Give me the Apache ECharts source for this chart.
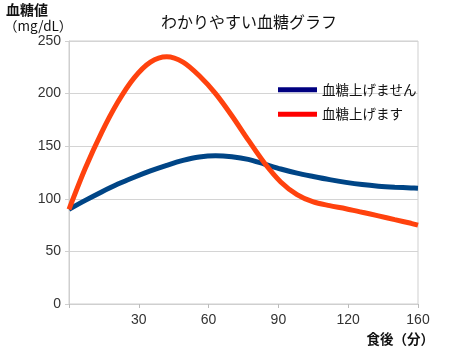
<!DOCTYPE html>
<html>
<head>
<meta charset="utf-8">
<script src="https://cdn.jsdelivr.net/npm/echarts@6/dist/echarts.min.js"></script>
<style>
  html, body { margin: 0; padding: 0; background: #fff; }
  #chart { width: 450px; height: 353px; }
</style>
</head>
<body>
<div id="chart"></div>
<script>
// x軸の目盛りラベル（等間隔、最後だけ160）
const xTickLabels = ['', '30', '60', '90', '120', '160'];
// 横位置（目盛り単位、0〜150）
const tPos = [0, 7, 14, 21, 28, 35, 42, 49, 56, 63, 70, 77, 84, 91, 98, 105, 112, 119, 126, 133, 140, 147, 150];
// 血糖上げません
const noRise = [90, 98.5, 106.5, 114, 120.5, 126.5, 131.8, 136.5, 139.8, 141, 140, 137.5, 133, 128.3, 124.4, 121.2, 118.2, 115.6, 113.5, 112, 111, 110.3, 110];
// 血糖上げます
const rise = [90, 129, 163, 192, 215, 230, 235, 230, 217, 200, 179, 156, 134, 116, 104, 97, 93.5, 90.6, 87.2, 83.8, 80.2, 76.7, 75];

const seriesNames = ['血糖上げません', '血糖上げます'];
const lineColors = ['#004586', '#ff420e'];
const legendColors = ['#000080', '#ff0000'];

const FONT = '"Liberation Sans", "Noto Sans CJK JP", sans-serif';
const JP = '"Noto Sans CJK JP", sans-serif';

function pairs(vals) {
  return tPos.map((t, i) => [t, vals[i]]);
}

const chart = echarts.init(document.getElementById('chart'));
chart.setOption({
  animation: false,
  backgroundColor: '#fff',
  textStyle: { fontFamily: FONT },
  title: [
    {
      text: 'わかりやすい血糖グラフ',
      left: 156, top: 9,
      textStyle: { fontFamily: JP, fontSize: 16, fontWeight: 'normal', color: '#111' }
    },
    {
      text: '血糖値',
      left: 6, top: 3, padding: 0,
      textStyle: { fontFamily: JP, fontSize: 14, fontWeight: 'bold', color: '#111' }
    },
    {
      text: '（mg/dL）',
      left: 4, top: 19, padding: 0,
      textStyle: { fontFamily: JP, fontSize: 13.5, fontWeight: 'normal', color: '#111' }
    }
  ],
  legend: {
    orient: 'vertical',
    left: 278, top: 83,
    padding: 0,
    itemWidth: 39, itemHeight: 5,
    itemGap: 11,
    icon: 'rect',
    textStyle: { fontFamily: JP, fontSize: 13.5, color: '#111' },
    data: seriesNames.map((n, i) => ({ name: n, itemStyle: { color: legendColors[i] } }))
  },
  grid: {
    left: 69, right: 32, top: 41, bottom: 49,
    show: true, borderColor: '#cfcfcf', borderWidth: 1
  },
  xAxis: {
    type: 'value',
    min: 0, max: 150, interval: 30,
    name: '食後（分）',
    nameLocation: 'end',
    nameGap: 16,
    nameTextStyle: {
      fontFamily: JP, fontSize: 13.5, fontWeight: 'bold', color: '#111',
      align: 'right', verticalAlign: 'top', padding: [28, 0, 0, 0]
    },
    axisLine: { lineStyle: { color: '#cfcfcf' } },
    axisTick: { show: true, length: 4, lineStyle: { color: '#bbb' } },
    splitLine: { show: false },
    axisLabel: {
      fontSize: 14, color: '#333', margin: 9,
      showMaxLabel: true,
      formatter: v => xTickLabels[Math.round(v / 30)]
    }
  },
  yAxis: {
    type: 'value',
    min: 0, max: 250, interval: 50,
    axisLine: { show: true, lineStyle: { color: '#cfcfcf' } },
    axisTick: { show: true, length: 4, lineStyle: { color: '#cfcfcf' } },
    splitLine: { lineStyle: { color: '#d4d4d4' } },
    axisLabel: { fontSize: 14, color: '#333', margin: 8 }
  },
  series: [
    {
      name: seriesNames[0],
      type: 'line',
      smooth: 0.3,
      showSymbol: false,
      color: lineColors[0],
      lineStyle: { width: 5, color: lineColors[0] },
      data: pairs(noRise)
    },
    {
      name: seriesNames[1],
      type: 'line',
      smooth: 0.3,
      showSymbol: false,
      color: lineColors[1],
      lineStyle: { width: 5, color: lineColors[1] },
      data: pairs(rise)
    }
  ]
});
</script>
</body>
</html>
